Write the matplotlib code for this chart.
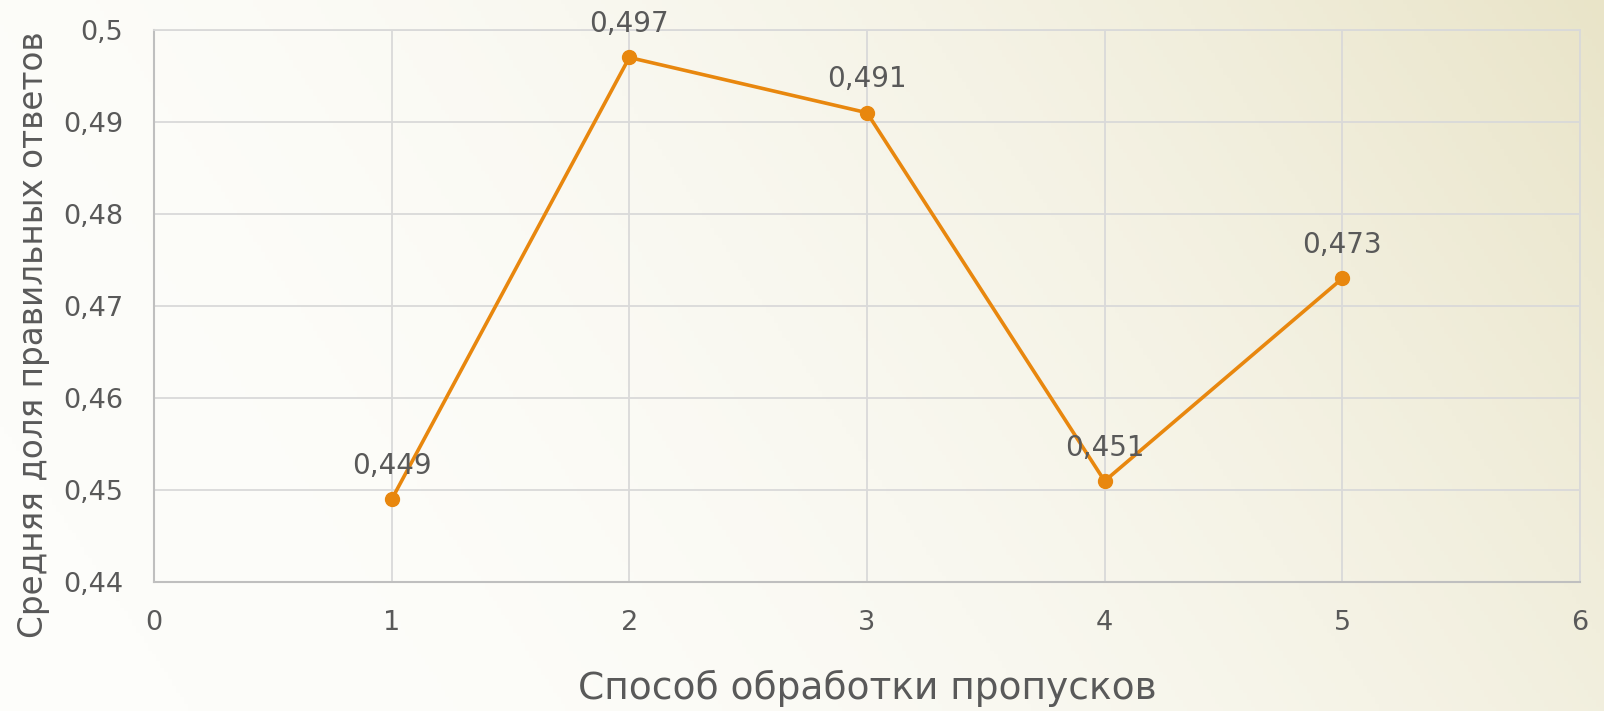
import numpy as np
import matplotlib
matplotlib.use('Agg')
import matplotlib.pyplot as plt
from matplotlib.ticker import FuncFormatter

# method number and mean share of correct answers
methods = [1, 2, 3, 4, 5]
share_correct = [0.449, 0.497, 0.491, 0.451, 0.473]
label_text = ['0,449', '0,497', '0,491', '0,451', '0,473']

plt.rcParams['font.family'] = ['DejaVu Sans']
text_col = '#595959'
line_col = '#E8870E'

fig = plt.figure(figsize=(16.04, 7.11), dpi=100)

# soft white-to-beige background
bg = fig.add_axes([0, 0, 1, 1], zorder=-10)
xx, yy = np.meshgrid(np.linspace(0, 1, 400), np.linspace(0, 1, 200))
t = np.clip(0.85 * xx + 0.25 * (1 - yy) - 0.1, 0, 1) ** 2
c0 = np.array([253, 253, 250]) / 255
c1 = np.array([233, 228, 200]) / 255
img = c0[None, None, :] * (1 - t[..., None]) + c1[None, None, :] * t[..., None]
bg.imshow(img, aspect='auto', extent=[0, 1, 0, 1], origin='upper')
bg.axis('off')

ax = fig.add_axes([0.096, 0.181, 0.889, 0.777])
ax.set_facecolor('none')

ax.plot(methods, share_correct, color=line_col, lw=2.6, marker='o',
        markersize=10, zorder=3)

for x, y, s in zip(methods, share_correct, label_text):
    ax.annotate(s, (x, y), xytext=(0, 14), textcoords='offset points',
                ha='center', va='bottom', fontsize=20, color=text_col)

ax.set_xlim(0, 6)
ax.set_ylim(0.44, 0.5)
ax.set_xticks(range(0, 7))
ax.set_yticks(np.arange(0.44, 0.5001, 0.01))
ax.yaxis.set_major_formatter(FuncFormatter(
    lambda v, p: ('%.3f' % v).rstrip('0').replace('.', ',')))

ax.grid(True, color='#D9D9D9', lw=1.3)
ax.set_axisbelow(True)
for side in ['top', 'right']:
    ax.spines[side].set_color('#D9D9D9')
    ax.spines[side].set_linewidth(1.3)
for side in ['left', 'bottom']:
    ax.spines[side].set_color('#BFBFBF')
    ax.spines[side].set_linewidth(1.5)

ax.tick_params(length=0, labelsize=19.5, labelcolor=text_col)
ax.tick_params(axis='x', pad=20)
ax.tick_params(axis='y', pad=22)

ax.set_xlabel('Способ обработки пропусков', fontsize=27, color=text_col,
              labelpad=24)
# y title sits a bit below the plot centre
fig.text(0.021, 0.529, 'Средняя доля правильных ответов', rotation=90,
         ha='center', va='center', fontsize=23.5, color=text_col)

fig.savefig('out.png', dpi=100)
